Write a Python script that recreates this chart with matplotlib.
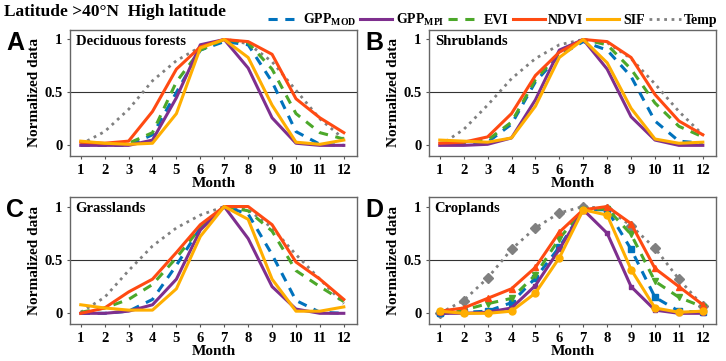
import numpy as np
import matplotlib
matplotlib.use('Agg')
import matplotlib.pyplot as plt

plt.rcParams['font.family'] = 'Liberation Serif'
plt.rcParams['font.weight'] = 'bold'
plt.rcParams['mathtext.fontset'] = 'custom'
plt.rcParams['mathtext.rm'] = 'Liberation Serif:bold'
plt.rcParams['mathtext.it'] = 'Liberation Serif:bold'
plt.rcParams['mathtext.bf'] = 'Liberation Serif:bold'

months = np.arange(1, 13)
panels = ['A', 'B', 'C', 'D']
titles = ['Deciduous forests', 'Shrublands', 'Grasslands', 'Croplands']
series = ['GPP$_{MOD}$', 'GPP$_{MPI}$', 'EVI', 'NDVI', 'SIF', 'Temp']

# normalized values, one list per panel
gpp_mod = [
    [0.0, 0.0, 0.0, 0.10, 0.50, 0.90, 0.98, 0.95, 0.60, 0.13, 0.01, 0.0],
    [0.01, 0.01, 0.03, 0.20, 0.60, 0.85, 0.98, 0.90, 0.65, 0.23, 0.04, 0.02],
    [0.0, 0.0, 0.02, 0.13, 0.45, 0.80, 1.0, 0.93, 0.55, 0.12, 0.01, 0.0],
    [0.0, 0.01, 0.02, 0.10, 0.33, 0.62, 0.97, 0.97, 0.60, 0.15, 0.02, 0.01],
]
gpp_mpi = [
    [0.0, 0.0, 0.0, 0.05, 0.45, 0.95, 1.0, 0.73, 0.26, 0.02, 0.0, 0.0],
    [0.0, 0.0, 0.01, 0.07, 0.43, 0.90, 1.0, 0.72, 0.27, 0.05, 0.0, 0.0],
    [0.0, 0.0, 0.02, 0.08, 0.32, 0.78, 1.0, 0.70, 0.25, 0.04, 0.0, 0.0],
    [0.0, 0.0, 0.01, 0.05, 0.26, 0.60, 0.97, 0.75, 0.25, 0.03, 0.0, 0.0],
]
evi = [
    [0.01, 0.01, 0.02, 0.12, 0.60, 0.90, 1.0, 0.97, 0.72, 0.30, 0.12, 0.06],
    [0.02, 0.03, 0.05, 0.22, 0.62, 0.87, 1.0, 0.95, 0.72, 0.40, 0.18, 0.08],
    [0.01, 0.05, 0.13, 0.27, 0.52, 0.80, 1.0, 0.96, 0.77, 0.40, 0.25, 0.11],
    [0.01, 0.03, 0.09, 0.14, 0.36, 0.70, 0.97, 0.98, 0.74, 0.30, 0.15, 0.06],
]
ndvi = [
    [0.03, 0.02, 0.04, 0.32, 0.72, 0.93, 1.0, 0.98, 0.86, 0.44, 0.26, 0.12],
    [0.02, 0.03, 0.08, 0.30, 0.66, 0.88, 1.0, 0.98, 0.83, 0.48, 0.23, 0.10],
    [0.0, 0.05, 0.20, 0.32, 0.57, 0.83, 1.0, 1.0, 0.83, 0.48, 0.32, 0.13],
    [0.02, 0.05, 0.14, 0.23, 0.43, 0.76, 0.97, 1.0, 0.84, 0.42, 0.25, 0.08],
]
sif = [
    [0.04, 0.02, 0.01, 0.02, 0.30, 0.92, 1.0, 0.83, 0.38, 0.03, 0.01, 0.05],
    [0.05, 0.04, 0.03, 0.07, 0.37, 0.83, 1.0, 0.78, 0.35, 0.06, 0.02, 0.03],
    [0.08, 0.05, 0.03, 0.03, 0.23, 0.72, 1.0, 0.88, 0.32, 0.02, 0.02, 0.06],
    [0.02, 0.0, 0.0, 0.02, 0.19, 0.52, 0.97, 0.92, 0.41, 0.05, 0.01, 0.02],
]
temp = [
    [0.01, 0.13, 0.34, 0.61, 0.80, 0.93, 1.0, 0.96, 0.79, 0.52, 0.25, 0.06],
    [0.0, 0.15, 0.38, 0.63, 0.82, 0.95, 1.0, 0.97, 0.82, 0.58, 0.32, 0.10],
    [0.01, 0.15, 0.40, 0.63, 0.80, 0.92, 1.0, 0.97, 0.80, 0.55, 0.32, 0.09],
    [0.0, 0.12, 0.33, 0.60, 0.80, 0.94, 1.0, 0.98, 0.82, 0.61, 0.32, 0.07],
]

colors = ['#0072BD', '#7E2F8E', '#4CA82A', '#FF4A12', '#FFAE00', '#808080']
styles = [(0, (3, 2.5)), '-', (0, (3, 2.5)), '-', '-', ':']
markers = ['s', 's', 'v', '^', 'o', 'D']
msizes = [4.5, 3.5, 5, 5, 5, 5]
zorders = [3, 4, 3, 5, 6, 2]

fig = plt.figure(figsize=(7.26, 3.61), dpi=100)
positions = [
    [0.0964, 0.568, 0.3953, 0.349],
    [0.5909, 0.568, 0.3953, 0.349],
    [0.0964, 0.1025, 0.3953, 0.352],
    [0.5909, 0.1025, 0.3953, 0.352],
]

handles = []
for i in range(4):
    ax = fig.add_axes(positions[i])
    data = [gpp_mod[i], gpp_mpi[i], evi[i], ndvi[i], sif[i], temp[i]]
    ax.axhline(0.5, color='#333333', lw=0.8, zorder=1)
    for k in range(6):
        kw = {}
        if i == 3:
            kw = dict(marker=markers[k], markersize=msizes[k])
        ln, = ax.plot(months, data[k], color=colors[k], ls=styles[k],
                      lw=2.2 if k != 5 else 2.0, zorder=zorders[k],
                      label=series[k], **kw)
        if i == 0:
            handles.append(ln)
    ax.set_xlim(0.55, 12.55)
    ax.set_ylim(-0.1, 1.09)
    ax.set_xticks(months)
    ax.set_yticks([0, 0.5, 1])
    ax.set_yticklabels(['0', '0.5', '1'])
    ax.tick_params(labelsize=10.5, length=2.5, width=0.8, color='#555555', pad=3)
    for lab in ax.get_xticklabels() + ax.get_yticklabels():
        lab.set_fontweight('bold')
        lab.set_family('Liberation Serif')
    for s in ax.spines.values():
        s.set_color('#666666')
        s.set_linewidth(1.0)
    ax.set_xlabel('Month', fontsize=11, fontweight='bold', labelpad=0)
    ax.set_ylabel('Normalized data', fontsize=11, fontweight='bold', labelpad=2)
    ax.text(0.02, 0.96, titles[i], transform=ax.transAxes, fontsize=10.5,
            fontweight='bold', va='top', ha='left')
    fig.text(positions[i][0] - 0.088, positions[i][1] + positions[i][3] - 0.035,
             panels[i], fontsize=18, fontweight='bold', family='Liberation Sans',
             va='center', ha='left')

fig.text(0.006, 0.967, 'Latitude >40\u00b0N  High latitude', fontsize=12.5,
         fontweight='bold', va='center', ha='left')

fig.legend(handles=handles, labels=series, loc='center right',
           bbox_to_anchor=(1.0, 0.945), ncol=6, frameon=False,
           handlelength=2.3, handletextpad=0.25, columnspacing=0.3,
           borderaxespad=0.2, prop={'weight': 'bold', 'size': 10})

fig.savefig('out.png', dpi=100)
